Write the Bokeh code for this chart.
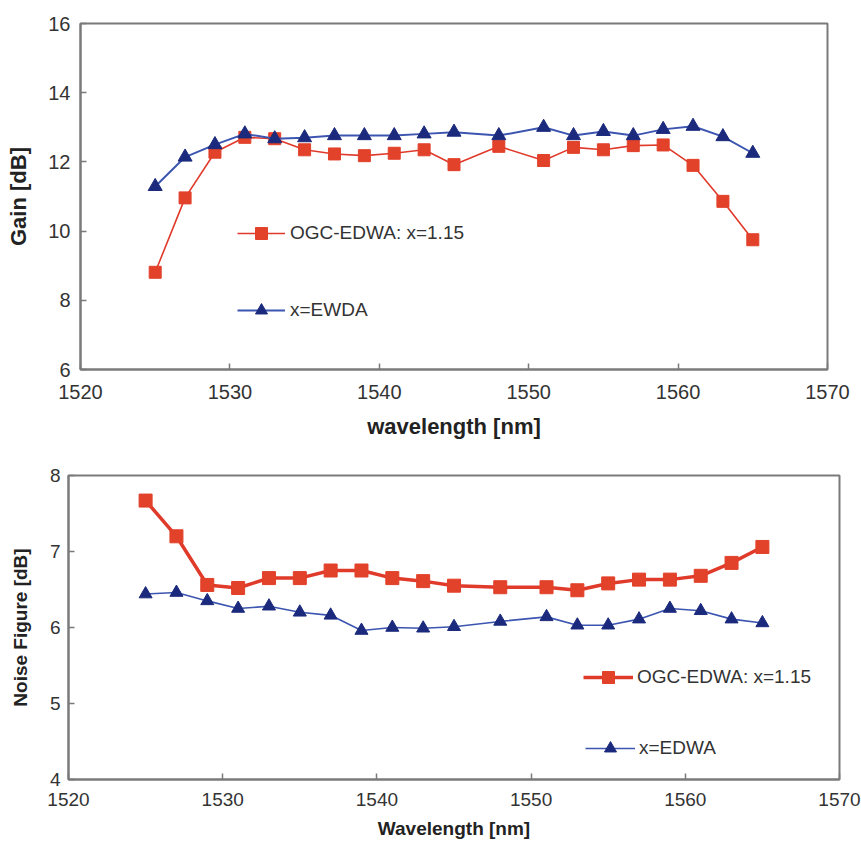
from bokeh.plotting import figure
from bokeh.layouts import column
from bokeh.models import Range1d, SingleIntervalTicker, Legend, LegendItem
from bokeh.embed import file_html
from bokeh.resources import INLINE

# ---------------- data ----------------
wavelength = [1525, 1527, 1529, 1531, 1533, 1535, 1537, 1539, 1541, 1543,
              1545, 1548, 1551, 1553, 1555, 1557, 1559, 1561, 1563, 1565]

gain_ogc = [8.81, 10.96, 12.28, 12.71, 12.67, 12.35, 12.23, 12.18, 12.25, 12.35,
            11.92, 12.45, 12.04, 12.42, 12.35, 12.47, 12.49, 11.90, 10.86, 9.75]
gain_edwa = [11.29, 12.14, 12.50, 12.81, 12.67, 12.70, 12.76, 12.76, 12.76, 12.81,
             12.86, 12.76, 13.00, 12.76, 12.88, 12.76, 12.94, 13.03, 12.73, 12.25]

nf_ogc = [7.67, 7.20, 6.56, 6.52, 6.65, 6.65, 6.75, 6.75, 6.65, 6.61,
          6.55, 6.53, 6.53, 6.49, 6.58, 6.63, 6.63, 6.68, 6.85, 7.06]
nf_edwa = [6.44, 6.46, 6.35, 6.25, 6.28, 6.20, 6.16, 5.96, 6.00, 5.99,
           6.01, 6.08, 6.14, 6.03, 6.03, 6.11, 6.25, 6.22, 6.11, 6.06]

top_labels = ["OGC-EDWA: x=1.15", "x=EWDA"]
bottom_labels = ["OGC-EDWA: x=1.15", "x=EDWA"]

RED = "#e2412a"
RED_LINE = "#e03a2a"
NAVY = "#1b2a7c"
BLUE_LINE = "#3c55b0"
FONT = "Liberation Sans"
TICK_COLOR = "#333333"
FRAME = "#7a7a7a"


def style(p, xlabel, ylabel, tick_px, label_px, y_interval):
    p.outline_line_color = FRAME
    p.outline_line_width = 2
    p.xgrid.visible = False
    p.ygrid.visible = False
    p.background_fill_color = "white"
    p.border_fill_color = "white"
    p.xaxis.ticker = SingleIntervalTicker(interval=10, num_minor_ticks=0)
    p.yaxis.ticker = SingleIntervalTicker(interval=y_interval, num_minor_ticks=0)
    for ax in (p.xaxis[0], p.yaxis[0]):
        ax.axis_line_color = FRAME
        ax.axis_line_width = 2
        ax.major_tick_line_color = FRAME
        ax.major_tick_line_width = 1.5
        ax.major_tick_in = 6
        ax.major_tick_out = 0
        ax.minor_tick_line_color = None
        ax.major_label_text_font = FONT
        ax.major_label_text_font_size = tick_px
        ax.major_label_text_color = TICK_COLOR
        ax.axis_label_text_font = FONT
        ax.axis_label_text_font_size = label_px
        ax.axis_label_text_font_style = "bold"
        ax.axis_label_text_color = "#222222"
    p.xaxis.axis_label = xlabel
    p.yaxis.axis_label = ylabel


# ---------------- top: gain ----------------
p1 = figure(width=861, height=450, x_range=Range1d(1520, 1570), y_range=Range1d(6, 16),
            output_backend="svg", toolbar_location=None, frame_align=False,
            min_border_left=80, min_border_right=34, min_border_top=23, min_border_bottom=81)
style(p1, "wavelength [nm]", "Gain [dB]", "20px", "22px", 2)
p1.xaxis.major_label_standoff = 15
p1.yaxis.major_label_standoff = 10
p1.xaxis.axis_label_standoff = 12
p1.yaxis.axis_label_standoff = 14

l1 = p1.line(wavelength, gain_ogc, line_color=RED_LINE, line_width=1.6)
s1 = p1.scatter(wavelength, gain_ogc, marker="square", size=12, fill_color=RED, line_color=RED)
l2 = p1.line(wavelength, gain_edwa, line_color=BLUE_LINE, line_width=2)
s2 = p1.scatter(wavelength, gain_edwa, marker="triangle", size=14, fill_color=NAVY, line_color=NAVY)

for label, rs, loc in [(top_labels[0], [l1, s1], (157, 121)), (top_labels[1], [l2, s2], (157, 44))]:
    lg = Legend(items=[LegendItem(label=label, renderers=rs)], location=loc,
                padding=0, margin=0, border_line_color=None, background_fill_alpha=0,
                glyph_width=48, glyph_height=30, label_standoff=5,
                label_text_font=FONT, label_text_font_size="19px", label_text_color="#333333")
    p1.add_layout(lg)

# ---------------- bottom: noise figure ----------------
p2 = figure(width=861, height=391, x_range=Range1d(1520, 1570), y_range=Range1d(4, 8),
            output_backend="svg", toolbar_location=None, frame_align=False,
            min_border_left=68, min_border_right=22, min_border_top=25, min_border_bottom=62)
style(p2, "Wavelength [nm]", "Noise Figure [dB]", "19px", "19px", 1)
p2.xaxis.major_label_standoff = 13
p2.yaxis.major_label_standoff = 8
p2.xaxis.axis_label_standoff = 9
p2.yaxis.axis_label_standoff = 16

m1 = p2.line(wavelength, nf_ogc, line_color=RED_LINE, line_width=3.5)
t1 = p2.scatter(wavelength, nf_ogc, marker="square", size=13, fill_color=RED, line_color=RED)
m2 = p2.line(wavelength, nf_edwa, line_color=BLUE_LINE, line_width=1.6)
t2 = p2.scatter(wavelength, nf_edwa, marker="triangle", size=13, fill_color=NAVY, line_color=NAVY)

for label, rs, loc in [(bottom_labels[0], [m1, t1], (515, 87)), (bottom_labels[1], [m2, t2], (517, 16))]:
    lg = Legend(items=[LegendItem(label=label, renderers=rs)], location=loc,
                padding=0, margin=0, border_line_color=None, background_fill_alpha=0,
                glyph_width=50, glyph_height=30, label_standoff=4,
                label_text_font=FONT, label_text_font_size="19px", label_text_color="#333333")
    p2.add_layout(lg)

layout = column(p1, p2, spacing=0)
open("out.html", "w").write(file_html(layout, INLINE))
